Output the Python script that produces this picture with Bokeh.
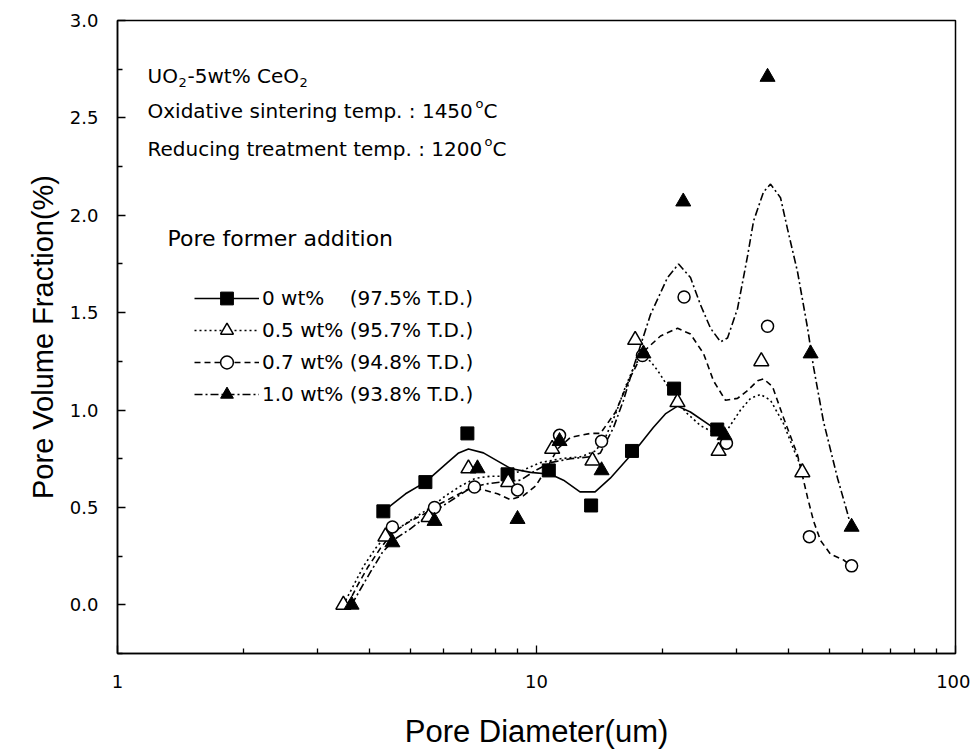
from bokeh.plotting import figure
from bokeh.models import (Range1d, FixedTicker, NumeralTickFormatter, Label,
                          Legend, LegendItem)
from bokeh.embed import file_html
from bokeh.resources import INLINE

# ---- measured points ----
s0_x = [4.31, 5.43, 6.84, 8.53, 10.7, 13.5, 16.9, 21.3, 27.0]
s0_y = [0.48, 0.63, 0.88, 0.67, 0.69, 0.51, 0.79, 1.11, 0.90]

s05_x = [3.46, 4.36, 5.53, 6.88, 8.56, 10.9, 13.6, 17.2, 21.7, 27.2, 34.4, 43.1]
s05_y = [0.00, 0.35, 0.45, 0.70, 0.63, 0.80, 0.74, 1.36, 1.04, 0.79, 1.25, 0.68]

s07_x = [4.53, 5.71, 7.11, 9.01, 11.35, 14.3, 17.9, 22.5, 28.4, 35.6, 44.8, 56.5]
s07_y = [0.40, 0.50, 0.605, 0.59, 0.87, 0.84, 1.28, 1.58, 0.83, 1.43, 0.35, 0.20]

s10_x = [3.62, 4.53, 5.71, 7.23, 9.01, 11.35, 14.3, 18.0, 22.4, 28.1, 35.6, 45.1, 56.5]
s10_y = [0.00, 0.32, 0.43, 0.70, 0.44, 0.84, 0.69, 1.29, 2.07, 0.87, 2.71, 1.29, 0.40]

# ---- smoothed curves ----
c0_x = [4.31, 4.87, 5.43, 6.13, 6.52, 6.88, 7.47, 8.20, 8.67, 9.68, 10.8, 11.6,
        12.7, 13.8, 15.0, 16.5, 17.0, 19.0, 20.3, 21.7, 23.3, 26.0, 28.1]
c0_y = [0.48, 0.57, 0.63, 0.73, 0.78, 0.80, 0.78, 0.73, 0.70, 0.68, 0.67, 0.64,
        0.58, 0.58, 0.65, 0.75, 0.78, 0.91, 0.98, 1.02, 0.99, 0.92, 0.87]

c05_x = [3.46, 3.66, 3.87, 4.13, 4.36, 4.74, 5.14, 5.59, 6.07, 6.59, 7.15, 7.77,
         8.43, 9.26, 10.22, 11.41, 12.74, 13.83, 14.61, 15.44, 16.31, 17.23, 18.0,
         18.71, 19.5, 20.88, 22.68, 24.63, 26.74, 28.57, 30.68, 32.42, 34.25,
         36.19, 38.87, 41.06, 43.14]
c05_y = [0.00, 0.10, 0.20, 0.29, 0.35, 0.40, 0.45, 0.50, 0.56, 0.61, 0.65, 0.66,
         0.66, 0.69, 0.73, 0.75, 0.76, 0.79, 0.86, 0.98, 1.12, 1.24, 1.27,
         1.25, 1.20, 1.10, 0.99, 0.92, 0.88, 0.90, 1.00, 1.06, 1.08,
         1.05, 0.93, 0.80, 0.69]

c07_x = [3.54, 3.74, 3.95, 4.24, 4.53, 5.00, 5.43, 5.90, 6.41, 6.96, 7.47, 8.07,
         8.67, 9.31, 9.95, 10.51, 11.22, 12.05, 13.46, 14.21, 15.44, 16.76, 18.01,
         19.77, 21.71, 23.31, 25.04, 26.45, 28.25, 30.18, 31.89, 33.69, 34.82,
         36.59, 38.87, 41.97, 44.36, 45.84, 47.63, 50.32, 54.06, 56.47]
c07_y = [0.00, 0.10, 0.19, 0.29, 0.37, 0.43, 0.47, 0.52, 0.56, 0.60, 0.59, 0.57,
         0.54, 0.56, 0.61, 0.69, 0.80, 0.86, 0.88, 0.88, 0.99, 1.17, 1.30,
         1.38, 1.42, 1.39, 1.29, 1.15, 1.05, 1.06, 1.10, 1.15, 1.16,
         1.12, 0.96, 0.77, 0.55, 0.43, 0.33, 0.26, 0.23, 0.20]

c10_x = [3.62, 3.80, 4.02, 4.29, 4.61, 5.00, 5.43, 5.90, 6.41, 6.96, 7.56, 8.21,
         9.16, 9.95, 10.80, 12.05, 13.46, 14.21, 15.27, 16.13, 17.04, 18.71, 20.54,
         21.83, 23.31, 24.63, 26.02, 27.49, 28.57, 30.18, 31.89, 32.96, 34.82,
         36.19, 38.23, 39.72, 41.97, 44.36, 45.84, 48.42, 52.30, 55.24, 56.16]
c10_y = [0.00, 0.08, 0.17, 0.27, 0.34, 0.39, 0.45, 0.50, 0.55, 0.60, 0.62, 0.63,
         0.64, 0.69, 0.73, 0.75, 0.76, 0.78, 0.91, 1.05, 1.22, 1.49, 1.68,
         1.75, 1.68, 1.54, 1.42, 1.35, 1.37, 1.52, 1.79, 1.97, 2.12,
         2.16, 2.09, 1.93, 1.71, 1.42, 1.22, 0.94, 0.65, 0.47, 0.41]

legend_labels = ["0 wt%\u00a0\u00a0\u00a0\u00a0(97.5% T.D.)",
                 "0.5 wt% (95.7% T.D.)",
                 "0.7 wt% (94.8% T.D.)",
                 "1.0 wt% (93.8% T.D.)"]

x_ticks = [1, 10, 100]
x_minor = [2, 3, 4, 5, 6, 7, 8, 9, 20, 30, 40, 50, 60, 70, 80, 90]
y_ticks = [0.0, 0.5, 1.0, 1.5, 2.0, 2.5, 3.0]
y_minor = [-0.25, 0.25, 0.75, 1.25, 1.75, 2.25, 2.75]

FONT = "DejaVu Sans"
TITLE_FONT = "Liberation Sans"

p = figure(x_axis_type="log", x_range=Range1d(1, 100), y_range=Range1d(-0.25, 3.0),
           frame_width=838, frame_height=633, output_backend="svg",
           toolbar_location=None)
p.min_border_left = 117
p.min_border_right = 15
p.min_border_top = 20
p.min_border_bottom = 97
p.grid.visible = False
p.outline_line_color = "black"
p.outline_line_width = 1.5
p.outline_line_alpha = 1.0
p.background_fill_color = "white"
p.border_fill_color = "white"

for ax in (p.xaxis[0], p.yaxis[0]):
    ax.axis_line_width = 1.5
    ax.major_tick_in = 8
    ax.major_tick_out = 0
    ax.minor_tick_in = 5
    ax.minor_tick_out = 0
    ax.major_tick_line_width = 1.3
    ax.minor_tick_line_width = 1.3
    ax.major_label_text_font = FONT
    ax.major_label_text_font_size = "18px"
    ax.major_label_text_color = "black"
    ax.axis_label_text_font = TITLE_FONT
    ax.axis_label_text_font_style = "normal"
    ax.axis_label_text_color = "black"

p.xaxis.ticker = FixedTicker(ticks=x_ticks, minor_ticks=x_minor)
p.xaxis.formatter = NumeralTickFormatter(format="0")
p.xaxis.major_label_standoff = 21
p.xaxis.axis_label = "Pore Diameter(um)"
p.xaxis.axis_label_text_font_size = "31px"
p.xaxis.axis_label_standoff = 23

p.yaxis.ticker = FixedTicker(ticks=y_ticks, minor_ticks=y_minor)
p.yaxis.formatter = NumeralTickFormatter(format="0.0")
p.yaxis.major_label_standoff = 19
p.yaxis.axis_label = "Pore Volume Fraction(%)"
p.yaxis.axis_label_text_font_size = "29px"
p.yaxis.axis_label_standoff = 8

# curves
l0 = p.line(c0_x, c0_y, line_color="black", line_width=1.6)
l05 = p.line(c05_x, c05_y, line_color="black", line_width=1.6, line_dash="2 3")
l07 = p.line(c07_x, c07_y, line_color="black", line_width=1.6, line_dash="6 4")
l10 = p.line(c10_x, c10_y, line_color="black", line_width=1.6, line_dash="8 3 2 3")

# markers
m0 = p.scatter(s0_x, s0_y, marker="square", size=13, fill_color="black", line_color="black")
m05 = p.scatter(s05_x, s05_y, marker="triangle", size=15, fill_color="white",
                line_color="black", line_width=1.5)
m07 = p.scatter(s07_x, s07_y, marker="circle", size=12, fill_color="white",
                line_color="black", line_width=1.5)
m10 = p.scatter(s10_x, s10_y, marker="triangle", size=15, fill_color="black",
                line_color="black")

legend = Legend(items=[LegendItem(label=legend_labels[0], renderers=[l0, m0]),
                       LegendItem(label=legend_labels[1], renderers=[l05, m05]),
                       LegendItem(label=legend_labels[2], renderers=[l07, m07]),
                       LegendItem(label=legend_labels[3], renderers=[l10, m10])],
                location=(77, 243), orientation="vertical",
                glyph_width=65, glyph_height=32, label_height=32, spacing=0,
                padding=0, margin=0, label_standoff=3,
                border_line_alpha=0, background_fill_alpha=0,
                label_text_font=FONT, label_text_font_size="20px",
                label_text_color="black")
p.add_layout(legend)


def lab(x, y, t, size="20px"):
    p.add_layout(Label(x=x, y=y, x_units="screen", y_units="screen", text=t,
                       text_font=FONT, text_font_size=size, text_color="black",
                       text_baseline="middle", text_align="left"))


# UO2-5wt% CeO2
lab(30, 578, "UO")
lab(61, 571, "2", "13px")
lab(70, 578, "-5wt% CeO")
lab(182, 571, "2", "13px")
# temperatures
lab(30, 543, "Oxidative sintering temp. : 1450")
lab(358, 550, "o", "13px")
lab(366, 543, "C")
lab(30, 505, "Reducing treatment temp. : 1200")
lab(367, 512, "o", "13px")
lab(375, 505, "C")
lab(50, 415, "Pore former addition", "22px")

open("out.html", "w").write(file_html(p, INLINE))
